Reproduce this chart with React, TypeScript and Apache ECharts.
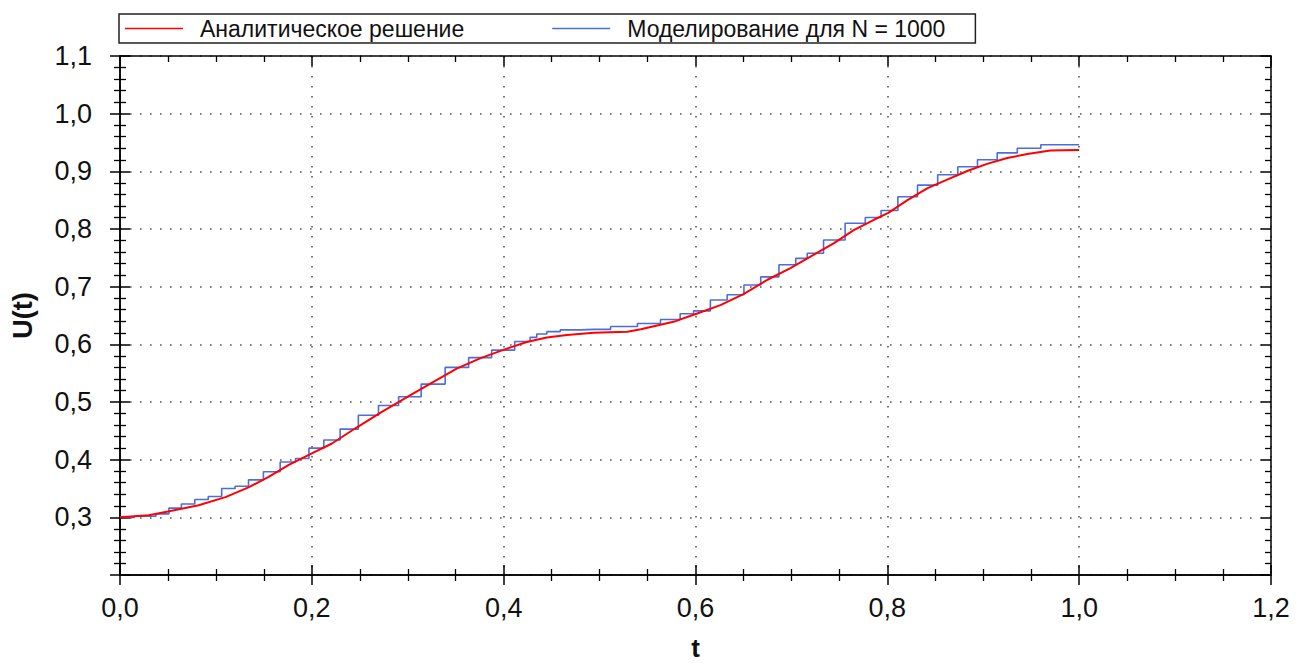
import React, { useEffect, useRef } from "react";
import * as echarts from "echarts";

const redName = "Аналитическое решение";
const blueName = "Моделирование для N = 1000";

const redT = [0, 0.03, 0.05, 0.082, 0.11, 0.134, 0.155, 0.176, 0.199, 0.221, 0.245, 0.273, 0.301, 0.325, 0.351, 0.376, 0.399, 0.424, 0.445, 0.466, 0.494, 0.529, 0.543, 0.577, 0.601, 0.626, 0.65, 0.675, 0.699, 0.723, 0.744, 0.765, 0.786, 0.801, 0.821, 0.842, 0.863, 0.884, 0.904, 0.925, 0.946, 0.97, 1.0];
const redV = [0.3, 0.3035, 0.31, 0.321, 0.335, 0.352, 0.37, 0.391, 0.41, 0.428, 0.454, 0.483, 0.51, 0.533, 0.558, 0.576, 0.59, 0.604, 0.612, 0.616, 0.62, 0.622, 0.626, 0.639, 0.653, 0.668, 0.687, 0.712, 0.732, 0.755, 0.775, 0.798, 0.816, 0.828, 0.85, 0.871, 0.886, 0.901, 0.913, 0.923, 0.93, 0.936, 0.937];

const blueT = [0, 0.03, 0.045, 0.057, 0.071, 0.085, 0.099, 0.113, 0.127, 0.141, 0.158, 0.176, 0.19, 0.204, 0.221, 0.238, 0.259, 0.28, 0.301, 0.327, 0.351, 0.376, 0.399, 0.424, 0.431, 0.438, 0.452, 0.466, 0.494, 0.529, 0.55, 0.577, 0.591, 0.605, 0.626, 0.64, 0.661, 0.675, 0.699, 0.71, 0.723, 0.744, 0.768, 0.786, 0.801, 0.821, 0.842, 0.863, 0.884, 0.904, 0.925, 0.946, 0.974, 1.0];
const blueV = [0.3, 0.302, 0.306, 0.316, 0.323, 0.331, 0.336, 0.35, 0.354, 0.365, 0.379, 0.396, 0.402, 0.42, 0.434, 0.453, 0.477, 0.494, 0.509, 0.531, 0.56, 0.577, 0.59, 0.605, 0.612, 0.618, 0.622, 0.625, 0.626, 0.631, 0.636, 0.643, 0.653, 0.658, 0.677, 0.686, 0.703, 0.717, 0.738, 0.749, 0.758, 0.781, 0.81, 0.82, 0.832, 0.856, 0.876, 0.894, 0.908, 0.92, 0.932, 0.94, 0.946, 0.946];

const xMin = 0, xMax = 1.2, xStep = 0.2;
const yMin = 0.2, yMax = 1.1, yStep = 0.1;

const FONT = "Liberation Sans, Arial, sans-serif";
const fmt = (v: number) => v.toFixed(1).replace(".", ",");

export default function App() {
  const ref = useRef<HTMLDivElement>(null);
  useEffect(() => {
    if (!ref.current) return;
    const chart = echarts.init(ref.current, null, { renderer: "svg" });
    const axisLine = { show: true, onZero: false, lineStyle: { color: "#000", width: 1.5 } };
    const majorTick = (inside: boolean) => ({ show: true, inside, length: 10, lineStyle: { color: "#000", width: 1.5 } });
    const minorTick = (inside: boolean, n: number) => ({ show: true, splitNumber: n, length: 6, lineStyle: { color: "#000", width: 1.3 } });
    const dotted = { show: true, lineStyle: { color: "#555", width: 1.6, type: [1.6, 8.4] } };
    const xBase = { type: "value", min: xMin, max: xMax, interval: xStep, axisLine };
    const yBase = { type: "value", min: yMin, max: yMax, interval: yStep, axisLine };
    const noLabel = { show: false };
    chart.setOption({
      animation: false,
      backgroundColor: "#fff",
      textStyle: { fontFamily: FONT },
      grid: { left: 120, right: 29, top: 56, bottom: 89, containLabel: false, outerBoundsMode: "none" },
      legend: {
        left: 119,
        top: 14,
        data: [redName, blueName],
        orient: "horizontal",
        icon: "rect",
        borderColor: "#222",
        borderWidth: 1.5,
        borderRadius: 0,
        padding: [3, 30, 3, 6],
        itemWidth: 58,
        itemHeight: 1.5,
        itemGap: 88,
        textStyle: { fontFamily: FONT, fontSize: 23, color: "#111", padding: [0, 0, 0, 12] },
      },
      xAxis: [
        {
          ...xBase,
          position: "bottom",
          axisTick: majorTick(false),
          minorTick: minorTick(false, 4),
          splitLine: dotted,
          axisLabel: { formatter: fmt, fontSize: 27, color: "#111", margin: 19, fontFamily: FONT },
          name: "t",
          nameLocation: "middle",
          nameGap: 60,
          nameTextStyle: { fontSize: 26, lineHeight: 26, fontWeight: "bold", color: "#111", fontFamily: FONT },
        },
        { ...xBase, position: "bottom", axisTick: majorTick(true), minorTick: minorTick(true, 4), splitLine: { show: false }, axisLabel: noLabel },
        { ...xBase, position: "top", axisTick: majorTick(true), minorTick: minorTick(true, 4), splitLine: { show: false }, axisLabel: noLabel },
      ],
      yAxis: [
        {
          ...yBase,
          position: "left",
          axisTick: majorTick(false),
          minorTick: minorTick(false, 5),
          splitLine: dotted,
          axisLabel: { formatter: fmt, fontSize: 27, color: "#111", margin: 28, showMinLabel: false, fontFamily: FONT },
          name: "U(t)",
          nameLocation: "middle",
          nameGap: 84,
          nameTextStyle: { fontSize: 27, fontWeight: "bold", color: "#111", fontFamily: FONT },
        },
        { ...yBase, position: "left", axisTick: majorTick(true), minorTick: minorTick(true, 5), splitLine: { show: false }, axisLabel: noLabel },
        { ...yBase, position: "right", axisTick: majorTick(true), minorTick: minorTick(true, 5), splitLine: { show: false }, axisLabel: noLabel },
      ],
      series: [
        {
          name: blueName,
          type: "line",
          step: "middle",
          symbol: "none",
          xAxisIndex: 0,
          yAxisIndex: 0,
          data: blueT.map((t, i) => [t, blueV[i]]),
          lineStyle: { color: "#4a6ee0", width: 1.6 },
          itemStyle: { color: "#4a6ee0" },
        },
        {
          name: redName,
          type: "line",
          symbol: "none",
          xAxisIndex: 0,
          yAxisIndex: 0,
          data: redT.map((t, i) => [t, redV[i]]),
          lineStyle: { color: "#ff0000", width: 2 },
          itemStyle: { color: "#ff0000" },
        },
      ],
    });
    return () => chart.dispose();
  }, []);
  return <div ref={ref} style={{ position: "fixed", left: 0, top: 0, width: 1300, height: 664 }} />;
}
